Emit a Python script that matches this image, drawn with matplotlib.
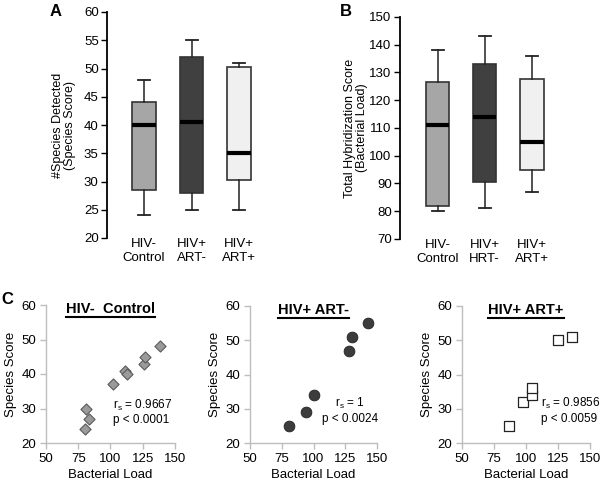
import matplotlib
matplotlib.use("Agg")
import matplotlib.pyplot as plt
from matplotlib.lines import Line2D

plt.rcParams['font.family'] = ['Liberation Sans', 'DejaVu Sans']
plt.rcParams['mathtext.fontset'] = 'custom'
plt.rcParams['mathtext.rm'] = 'Liberation Sans'
plt.rcParams['mathtext.it'] = 'Liberation Sans'

# Panel A / B box summaries: (whisker low, q1, median, q3, whisker high)
groups_a = ["HIV-\nControl", "HIV+\nART-", "HIV+\nART+"]
groups_b = ["HIV-\nControl", "HIV+\nHRT-", "HIV+\nART+"]
species_stats = [
    (24, 28.5, 40, 44, 48),
    (25, 28, 40.5, 52, 55),
    (25, 30.2, 35, 50.3, 51),
]
load_stats = [
    (80, 82, 111, 126.5, 138),
    (81, 90.5, 114, 133, 143),
    (87, 95, 105, 127.5, 136),
]
box_colors = ["#a6a6a6", "#404040", "#f0f0f0"]

# Panel C scatter data
ctrl_load = [80, 81, 83, 102, 111, 113, 126, 127, 138]
ctrl_species = [24, 30, 27, 37, 41, 40, 43, 45, 48]
artneg_load = [81, 94, 100, 128, 130, 143]
artneg_species = [25, 29, 34, 47, 51, 55]
artpos_load = [87, 98, 105, 105, 125, 136]
artpos_species = [25, 32, 34, 36, 50, 51]

W, H = 600, 487
fig = plt.figure(figsize=(6, 4.87), dpi=100)


def ax_px(left, top, right, bottom):
    return fig.add_axes([left / W, 1 - bottom / H, (right - left) / W, (bottom - top) / H])


def box_panel(ax, stats, labels, ylim, yticks, ylabel, x0, xmax, label_x):
    bstats = []
    for lo, q1, med, q3, hi in stats:
        bstats.append(dict(whislo=lo, q1=q1, med=med, q3=q3, whishi=hi, fliers=[]))
    bp = ax.bxp(bstats, positions=[1, 2, 3], widths=0.5, patch_artist=True,
                showfliers=False,
                boxprops=dict(edgecolor="#333333", linewidth=1.2),
                medianprops=dict(color="black", linewidth=3, solid_capstyle="butt"),
                whiskerprops=dict(color="#222222", linewidth=1.1),
                capprops=dict(color="#222222", linewidth=1.3))
    for patch, c in zip(bp["boxes"], box_colors):
        patch.set_facecolor(c)
    ax.set_xlim(x0, xmax)
    ax.set_ylim(*ylim)
    ax.set_yticks(yticks)
    ax.set_xticks([1, 2, 3], labels)
    ax.tick_params(axis="x", length=0, pad=0, labelsize=9.5)
    ax.tick_params(axis="y", length=4, width=1, labelsize=9.5, pad=2)
    for s in ["top", "right", "bottom"]:
        ax.spines[s].set_visible(False)
    ax.spines["left"].set_linewidth(1.3)
    ax.set_ylabel(ylabel, fontsize=9, linespacing=1.0)
    ax.yaxis.set_label_coords(label_x, 0.5)


ax_a = ax_px(107, 12, 270, 238)
box_panel(ax_a, species_stats, groups_a, (20, 60), range(20, 61, 5),
          "#Species Detected\n(Species Score)", 0.22, 3.65, -0.19)
ax_b = ax_px(400, 17, 560, 239)
box_panel(ax_b, load_stats, groups_b, (70, 150), range(70, 151, 10),
          "Total Hybridization Score\n(Bacterial Load)", 0.20, 3.6, -0.2)

fig.text(50 / W, 1 - 12 / H, "A", fontsize=12, fontweight="bold", va="center")
fig.text(340 / W, 1 - 12 / H, "B", fontsize=12, fontweight="bold", va="center")
fig.text(1 / W, 1 - 299 / H, "C", fontsize=12, fontweight="bold", va="center")


def scatter_panel(ax, x, y, title, note, note_xy, note_ha, **kw):
    ax.scatter(x, y, clip_on=False, zorder=3, **kw)
    ax.set_xlim(50, 150)
    ax.set_ylim(20, 60)
    ax.set_xticks([50, 75, 100, 125, 150])
    ax.set_yticks([20, 30, 40, 50, 60])
    for s in ["top", "right"]:
        ax.spines[s].set_visible(False)
    for s in ["left", "bottom"]:
        ax.spines[s].set_color("#bdbdbd")
        ax.spines[s].set_linewidth(1)
    ax.tick_params(length=4, width=1, color="#bdbdbd", labelsize=9.5, pad=3)
    ax.set_xlabel("Bacterial Load", fontsize=9.5, labelpad=3)
    ax.set_ylabel("Species Score", fontsize=9.5, labelpad=3)
    t = ax.text(0.5, 0.97, title, transform=ax.transAxes, ha="center", va="center",
                fontsize=10.5, fontweight="bold")
    ax.text(note_xy[0], note_xy[1], note, ha=note_ha, va="center", fontsize=8.5,
            multialignment=note_ha, linespacing=1.15, clip_on=False)
    return t


titles = []
ax1 = ax_px(46, 305, 175, 443)
titles.append(scatter_panel(ax1, ctrl_load, ctrl_species, "HIV-  Control",
                            "r$_s$ = 0.9667\np < 0.0001", (102, 29), "left",
                            marker="D", s=32, facecolor="#9a9a9a", edgecolor="#5a5a5a",
                            linewidths=0.8))
ax2 = ax_px(250, 306, 377, 443)
titles.append(scatter_panel(ax2, artneg_load, artneg_species, "HIV+ ART-",
                            "r$_s$ = 1\np < 0.0024", (129, 29.5), "center",
                            marker="o", s=60, facecolor="#3c3c3c", edgecolor="#222222",
                            linewidths=0.6))
ax3 = ax_px(462, 306, 590, 443)
titles.append(scatter_panel(ax3, artpos_load, artpos_species, "HIV+ ART+",
                            "r$_s$ = 0.9856\np < 0.0059", (112, 29.5), "left",
                            marker="s", s=50, facecolor="white", edgecolor="#222222",
                            linewidths=0.9))

# underline the panel C titles
fig.canvas.draw()
renderer = fig.canvas.get_renderer()
inv = fig.transFigure.inverted()
for t in titles:
    bb = t.get_window_extent(renderer).transformed(inv)
    fig.add_artist(Line2D([bb.x0, bb.x1], [bb.y0 - 0.001, bb.y0 - 0.001],
                          transform=fig.transFigure, color="black", linewidth=1.5))

fig.savefig("out.png", dpi=100)
